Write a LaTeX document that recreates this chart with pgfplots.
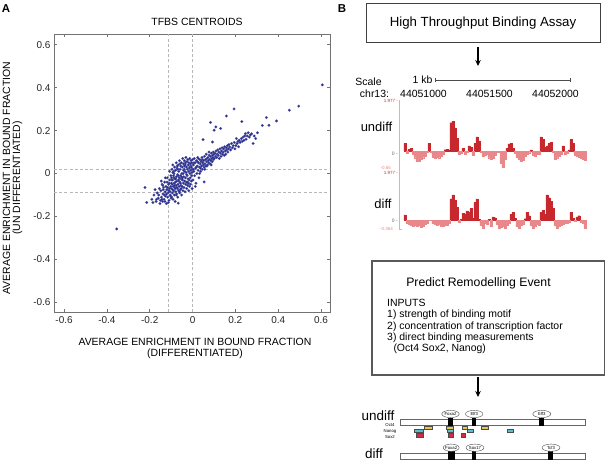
\documentclass[border=0pt]{standalone}
\usepackage{fontspec}
\setmainfont{Liberation Sans}
\usepackage{pgfplots}
\usepackage{pgfplotstable}
\pgfplotsset{compat=1.18}
\usetikzlibrary{arrows.meta}
\definecolor{scat}{RGB}{40,44,140}
\definecolor{tdark}{RGB}{198,40,45}
\definecolor{tlight}{RGB}{232,136,138}
\definecolor{tpink}{RGB}{236,170,170}
\definecolor{ylw}{RGB}{232,200,70}
\definecolor{cyn}{RGB}{90,190,210}
\definecolor{rdb}{RGB}{205,45,70}
\newcommand{\fs}[1]{\fontsize{#1}{#1}\selectfont}

\pgfplotstableread{
x y
-0.19 -0.12
-0.18 -0.10
-0.17 -0.13
-0.165 -0.09
-0.16 -0.115
-0.155 -0.07
-0.152 -0.14
-0.175 -0.075
-0.158 -0.10
-0.168 -0.12
-0.185 -0.135
-0.15 -0.125
-0.148 -0.08
-0.145 -0.11
-0.142 -0.05
-0.14 -0.13
-0.138 -0.095
-0.135 -0.065
-0.133 -0.12
-0.13 -0.04
-0.128 -0.085
-0.126 -0.105
-0.124 -0.06
-0.122 -0.14
-0.12 -0.075
-0.118 -0.02
-0.116 -0.11
-0.114 -0.09
-0.112 -0.05
-0.11 -0.125
-0.108 -0.07
-0.106 -0.03
-0.104 -0.10
-0.102 -0.06
-0.10 -0.115
-0.146 -0.035
-0.137 -0.075
-0.131 -0.10
-0.127 -0.02
-0.121 -0.095
-0.117 -0.065
-0.113 -0.135
-0.109 -0.045
-0.105 -0.085
-0.101 -0.01
-0.143 -0.12
-0.139 -0.055
-0.129 -0.13
-0.119 -0.04
-0.111 -0.08
-0.107 0.01
-0.103 -0.105
-0.099 -0.07
-0.098 -0.02
-0.097 -0.11
-0.096 0.02
-0.095 -0.05
-0.094 -0.09
-0.093 -0.03
-0.092 0.04
-0.091 -0.12
-0.09 -0.06
-0.089 -0.01
-0.088 -0.08
-0.087 0.0
-0.086 -0.045
-0.085 -0.10
-0.084 0.03
-0.083 -0.065
-0.082 -0.025
-0.081 -0.13
-0.08 -0.04
-0.079 0.015
-0.078 -0.085
-0.077 -0.055
-0.076 0.05
-0.075 -0.015
-0.074 -0.095
-0.073 -0.035
-0.072 0.025
-0.071 -0.07
-0.07 -0.005
-0.069 -0.11
-0.068 -0.05
-0.067 0.04
-0.066 -0.03
-0.065 -0.08
-0.064 0.01
-0.063 -0.06
-0.062 -0.02
-0.061 0.06
-0.06 -0.09
-0.059 -0.04
-0.058 0.02
-0.057 -0.075
-0.056 -0.01
-0.055 0.035
-0.054 -0.055
-0.053 -0.025
-0.052 0.05
-0.051 -0.10
-0.05 0.0
-0.0985 -0.045
-0.0935 -0.075
-0.0885 0.01
-0.0835 -0.055
-0.0785 -0.025
-0.0735 -0.065
-0.0685 0.02
-0.0635 -0.035
-0.0585 0.045
-0.0535 -0.07
-0.0965 -0.03
-0.0865 -0.02
-0.0765 -0.10
-0.0665 -0.01
-0.0565 -0.045
-0.0915 0.005
-0.0815 -0.07
-0.0715 0.035
-0.0615 -0.085
-0.0515 -0.015
-0.049 -0.06
-0.048 0.03
-0.047 -0.03
-0.046 0.07
-0.045 -0.08
-0.044 0.0
-0.043 -0.045
-0.042 0.045
-0.041 -0.015
-0.04 -0.065
-0.039 0.02
-0.038 0.06
-0.037 -0.035
-0.036 0.01
-0.035 -0.085
-0.034 0.04
-0.033 -0.02
-0.032 -0.05
-0.031 0.075
-0.03 0.005
-0.029 -0.04
-0.028 0.03
-0.027 -0.07
-0.026 0.055
-0.025 -0.01
-0.024 0.02
-0.023 -0.055
-0.022 0.065
-0.021 -0.025
-0.02 0.04
-0.019 -0.045
-0.018 0.01
-0.017 0.05
-0.016 -0.03
-0.015 0.025
-0.014 -0.06
-0.013 0.07
-0.012 0.0
-0.011 -0.02
-0.01 0.045
-0.009 -0.05
-0.008 0.015
-0.007 0.06
-0.006 -0.035
-0.005 0.03
-0.004 -0.01
-0.003 0.05
-0.002 -0.07
-0.001 0.02
0.0 0.065
-0.0475 -0.02
-0.0375 0.035
-0.0275 -0.005
-0.0175 -0.08
-0.0075 0.035
-0.0425 0.015
-0.0325 0.05
-0.0225 -0.04
-0.0125 0.03
-0.0025 0.005
0.002 -0.03
0.004 0.04
0.006 0.01
0.008 0.07
0.01 -0.01
0.012 0.05
0.014 0.025
0.016 -0.045
0.018 0.06
0.02 0.0
0.022 0.035
0.024 0.075
0.026 0.015
0.028 0.05
0.03 -0.02
0.032 0.03
0.034 0.065
0.036 0.045
0.038 0.01
0.04 0.055
0.042 0.035
0.044 0.075
0.046 0.02
0.048 0.05
0.05 0.04
0.003 0.02
0.013 -0.06
0.023 0.055
0.033 0.0
0.043 0.06
0.007 0.05
0.017 0.03
0.027 0.07
0.037 0.025
0.047 0.065
0.054 -0.039
0.052 0.06
0.054 0.03
0.056 0.08
0.058 0.045
0.06 0.065
0.062 0.035
0.064 0.09
0.066 0.055
0.068 0.07
0.07 0.04
0.072 0.075
0.074 0.06
0.076 0.05
0.078 0.085
0.08 0.065
0.082 0.045
0.084 0.08
0.086 0.06
0.088 0.095
0.09 0.07
0.092 0.055
0.094 0.085
0.096 0.075
0.098 0.065
0.10 0.09
0.057 0.02
0.067 0.035
0.077 0.10
0.087 0.04
0.097 0.10
0.102 0.07
0.105 0.095
0.108 0.08
0.11 0.105
0.113 0.075
0.115 0.09
0.118 0.11
0.12 0.085
0.123 0.10
0.125 0.07
0.128 0.115
0.13 0.095
0.133 0.08
0.135 0.105
0.138 0.12
0.14 0.09
0.143 0.10
0.145 0.115
0.148 0.085
0.15 0.125
0.153 0.105
0.155 0.09
0.158 0.12
0.16 0.11
0.163 0.13
0.165 0.10
0.168 0.115
0.17 0.135
0.174 0.124
0.178 0.11
0.182 0.14
0.186 0.12
0.19 0.13
0.195 0.145
0.198 0.115
0.202 0.13
0.205 0.163
0.208 0.14
0.212 0.15
0.215 0.125
0.218 0.155
0.222 0.145
0.228 0.163
0.232 0.15
0.236 0.17
0.24 0.155
0.244 0.175
0.247 0.186
0.25 0.16
0.255 0.175
0.26 0.19
0.265 0.17
0.27 0.18
0.276 0.185
0.283 0.14
0.288 0.175
0.295 0.163
0.303 0.19
0.606 0.413
0.496 0.314
0.452 0.295
0.392 0.245
0.345 0.261
0.357 0.225
0.326 0.224
0.194 0.301
0.158 0.268
0.23 0.242
0.084 0.238
0.109 0.217
0.101 0.202
0.131 0.21
0.049 0.158
0.093 0.147
-0.222 -0.065
-0.354 -0.258
-0.214 -0.135
-0.067 -0.138
}\scatdata

\pgfplotstableread{
x u d
0 0.30 0.24
2 -0.08 -0.12
4 0.08 -0.15
6 0.10 -0.20
8 -0.10 -0.22
10 -0.25 -0.18
12 -0.38 -0.25
14 -0.40 -0.20
16 -0.32 -0.28
18 -0.25 -0.25
20 -0.18 -0.15
22 -0.05 -0.12
24 0.30 0
26 -0.05 0
28 -0.22 -0.12
30 -0.28 -0.15
32 -0.22 -0.20
34 -0.25 -0.15
36 -0.18 -0.22
38 -0.12 -0.25
40 0.06 -0.18
42 0.08 -0.20
44 0.05 -0.12
46 1.10 0.90
48 1.16 1.07
50 0.90 0.85
52 0.50 0.55
54 -0.12 -0.08
56 -0.08 0.05
58 0.12 0.30
60 -0.10 0.28
62 -0.05 0.40
64 0.20 0.35
66 0.15 0.50
68 -0.15 0.10
70 0.30 0.75
72 0.55 0.90
74 0.40 0.05
76 -0.05 -0.20
78 -0.20 -0.32
80 -0.15 -0.10
82 -0.12 -0.15
84 -0.25 0.05
86 -0.32 -0.25
88 -0.28 0.15
90 -0.15 0.12
92 -0.05 -0.15
94 -0.02 -0.30
96 -0.45 -0.28
98 -0.62 -0.25
100 -0.30 -0.30
102 0.12 -0.20
104 0.28 -0.10
106 0.30 0.25
108 0.12 0.35
110 -0.08 0.10
112 -0.22 -0.25
114 -0.30 -0.32
116 -0.40 -0.20
118 -0.35 -0.15
120 -0.20 0.08
122 -0.10 0.35
124 -0.06 0.20
126 0.05 -0.20
128 -0.15 -0.30
130 -0.20 -0.25
132 -0.12 -0.15
134 -0.10 -0.18
136 0.55 0.35
138 0.45 0.42
140 0.15 0.25
142 0.20 1.07
144 0.30 0.95
146 0.35 0.80
148 -0.05 0.50
150 -0.30 -0.20
152 -0.25 -0.30
154 -0.18 -0.25
156 -0.10 -0.20
158 0.20 -0.15
160 -0.12 -0.12
162 -0.08 -0.10
164 0.05 -0.05
166 0.45 0.35
168 0.30 0.10
170 -0.15 -0.03
172 -0.20 0.15
174 -0.22 0.20
176 -0.28 -0.05
178 -0.32 -0.10
180 -0.35 -0.30
}\trackdata

\begin{document}
\begin{tikzpicture}
\useasboundingbox (0,0) rectangle (607bp,-460bp);

% ---------- Panel A scatter ----------
\begin{axis}[
  at={(54bp,-312bp)}, anchor=south west,
  scale only axis, width=276bp, height=278bp,
  xmin=-0.647, xmax=0.642, ymin=-0.645, ymax=0.65,
  xtick={-0.6,-0.4,-0.2,0,0.2,0.4,0.6},
  ytick={-0.6,-0.4,-0.2,0,0.2,0.4,0.6},
  xticklabels={-0.6,-0.4,-0.2,0,0.2,0.4,0.6},
  yticklabels={-0.6,-0.4,-0.2,0,0.2,0.4,0.6},
  tick align=inside, xtick pos=both, ytick pos=both,
  major tick length=3bp,
  axis line style={black!55, line width=0.9bp},
  tick style={black!55, line width=0.6bp},
  ticklabel style={font=\fs{10}, text=black!85},
  xticklabel style={yshift=-1bp},
  /pgf/number format/assume math mode=true,
  clip=true,
]
\addplot[black!28, line width=0.8bp, dash pattern=on 3bp off 2.2bp] coordinates {(-0.114,-0.645) (-0.114,0.65)};
\addplot[black!28, line width=0.8bp, dash pattern=on 3bp off 2.2bp] coordinates {(0,-0.645) (0,0.65)};
\addplot[black!28, line width=0.8bp, dash pattern=on 3bp off 2.2bp] coordinates {(-0.647,0.021) (0.642,0.021)};
\addplot[black!28, line width=0.8bp, dash pattern=on 3bp off 2.2bp] coordinates {(-0.647,-0.089) (0.642,-0.089)};
\addplot[only marks, mark=*, mark size=1.35bp, color=scat, mark options={fill=scat, draw=scat!80!white, line width=0.2bp}] table[x=x, y=y] {\scatdata};
\end{axis}

% ---------- Tracks ----------
\begin{axis}[
  at={(399bp,-168bp)}, anchor=south west,
  scale only axis, width=188bp, height=68bp,
  xmin=-6, xmax=182, ymin=-0.65, ymax=1.977,
  hide axis, clip=false, ybar, bar width=2.4, bar shift=0pt]
\addplot[fill=tdark, draw=tdark, line width=0.2bp, restrict y to domain=0:3] table[x=x, y=u] {\trackdata};
\addplot[fill=tlight, draw=tlight, line width=0.2bp, restrict y to domain=-3:0] table[x=x, y=u] {\trackdata};
\end{axis}
\begin{axis}[
  at={(399bp,-229.3bp)}, anchor=south west,
  scale only axis, width=188bp, height=56.3bp,
  xmin=-6, xmax=182, ymin=-0.364, ymax=1.977,
  hide axis, clip=false, ybar, bar width=2.4, bar shift=0pt]
\addplot[fill=tdark, draw=tdark, line width=0.2bp, restrict y to domain=0:3] table[x=x, y=d] {\trackdata};
\addplot[fill=tlight, draw=tlight, line width=0.2bp, restrict y to domain=-3:0] table[x=x, y=d] {\trackdata};
\end{axis}

\begin{scope}[x=1bp, y=-1bp]
% panel labels
\node[font=\fs{11.5}\bfseries] at (6,8.5) {A};
\node[font=\fs{11.5}\bfseries] at (342,8.5) {B};
% scatter texts
\node[font=\fs{10.5}] at (197,22) {TFBS CENTROIDS};
\node[font=\fs{10.5}] at (195,341.5) {AVERAGE ENRICHMENT IN BOUND FRACTION};
\node[font=\fs{10.5}] at (195,354) {(DIFFERENTIATED)};
\node[font=\fs{10.5}, rotate=90] at (6.5,178) {AVERAGE ENRICHMENT IN BOUND FRACTION};
\node[font=\fs{10.5}, rotate=90] at (17.5,178) {(UN DIFFERENTIATED)};

% box 1
\draw[black!75, line width=1bp] (366,3.5) rectangle (600,42.5);
\node[font=\fs{13.3}] at (483,23) {High Throughput Binding Assay};
\draw[-{Stealth[length=6bp,width=5.5bp]}, line width=1.1bp] (478,47) -- (478,66);

% scale
\node[font=\fs{10.5}] at (422.5,80) {1 kb};
\draw[black!70, line width=0.6bp] (435,80) -- (570,80);
\draw[black!70, line width=0.6bp] (435,78) -- (435,82);
\draw[black!70, line width=0.6bp] (570,78) -- (570,82);
\node[font=\fs{10.5}] at (368.5,81.5) {Scale};
\node[font=\fs{10.5}, inner sep=0.5pt] at (374.5,93.5) {chr13:};
\node[font=\fs{10.5}] at (423.5,94) {44051000};
\node[font=\fs{10.5}] at (489.5,94) {44051500};
\node[font=\fs{10.5}] at (555.5,94) {44052000};

% track axis decorations
\draw[tpink, line width=0.6bp] (399,99.5) -- (399,229.5);
\draw[tpink, line width=0.6bp] (399,229.5) -- (402,229.5);
\node[font=\fs{4.5}, text=tdark, anchor=east, inner sep=0pt] at (398,101) {1.977 -};
\node[font=\fs{5}, text=black!60, anchor=east, inner sep=0pt] at (398,153.3) {0 -};
\node[font=\fs{4.5}, text=tlight, anchor=east, inner sep=0pt] at (391,167.5) {-0.65};
\node[font=\fs{4.5}, text=tdark, anchor=east, inner sep=0pt] at (398,172.5) {1.977 -};
\node[font=\fs{5}, text=black!60, anchor=east, inner sep=0pt] at (398,220.7) {0 -};
\node[font=\fs{4.5}, text=tlight, anchor=east, inner sep=0pt] at (393,229.3) {-0.364};
\node[font=\fs{13}] at (376.5,127) {undiff};
\node[font=\fs{13}] at (383,204) {diff};

% box 2
\draw[black!65, line width=1.2bp] (372,261) rectangle (604.5,375);
\node[font=\fs{12.3}] at (478.5,283) {Predict Remodelling Event};
\node[font=\fs{10.5}, anchor=west, inner sep=0pt] at (387,303) {INPUTS};
\node[font=\fs{10.5}, anchor=west, inner sep=0pt] at (387,315) {1) strength of binding motif};
\node[font=\fs{10.5}, anchor=west, inner sep=0pt] at (387,326.3) {2) concentration of transcription factor};
\node[font=\fs{10.5}, anchor=west, inner sep=0pt] at (387,337.3) {3) direct binding measurements};
\node[font=\fs{10.5}, anchor=west, inner sep=0pt] at (393.3,348.3) {(Oct4 Sox2, Nanog)};
\draw[-{Stealth[length=6bp,width=5.5bp]}, line width=1.1bp] (478,377) -- (478,397);

% schematic undiff
\node[font=\fs{13.5}] at (378,415.5) {undiff};
\draw[black!60, fill=white, line width=0.5bp] (400,419) rectangle (585,425.5);
\fill[black] (447.7,417.5) rectangle (452.7,426);
\fill[black] (472.3,417.5) rectangle (476,426);
\fill[black] (539.3,417.5) rectangle (544.3,426);
\draw[black!70, fill=white, line width=0.4bp] (450.5,414) ellipse (8.7 and 3.6);
\draw[black!70, fill=white, line width=0.4bp] (474.2,414) ellipse (8.8 and 3.6);
\draw[black!70, fill=white, line width=0.4bp] (541.8,414) ellipse (9 and 3.6);
\node[font=\fs{4.3}, inner sep=0pt] at (450.5,414) {Foxa2};
\node[font=\fs{4.3}, inner sep=0pt] at (474.2,414) {Elf3};
\node[font=\fs{4.3}, inner sep=0pt] at (541.8,414) {Elf3};
\node[font=\fs{4.3}, inner sep=0pt] at (390,425) {Oct4};
\node[font=\fs{4.3}, inner sep=0pt] at (390,431) {Nanog};
\node[font=\fs{4.3}, inner sep=0pt] at (390,436.7) {Sox2};
\begin{scope}[draw=black!70, line width=0.3bp]
\filldraw[fill=ylw] (424,425.8) rectangle (432.3,429.3);
\filldraw[fill=ylw] (446,425.8) rectangle (453.3,429.3);
\filldraw[fill=ylw] (462,425.8) rectangle (467.3,429.3);
\filldraw[fill=ylw] (481,425.8) rectangle (488.3,429.3);
\filldraw[fill=cyn] (414.3,429.3) rectangle (422.7,432.3);
\filldraw[fill=cyn] (446.7,429.3) rectangle (452.7,432.3);
\filldraw[fill=cyn] (467.3,429.3) rectangle (473.3,432.3);
\filldraw[fill=cyn] (507.3,429.3) rectangle (512.7,432.3);
\filldraw[fill=rdb] (416,433.3) rectangle (422.7,436.7);
\filldraw[fill=rdb] (448.3,433.3) rectangle (452.7,436.7);
\filldraw[fill=rdb] (461,433.3) rectangle (465.3,436.7);
\end{scope}

% schematic diff
\node[font=\fs{13.5}] at (374,453.5) {diff};
\draw[black!60, fill=white, line width=0.5bp] (400,453.3) rectangle (585,459);
\fill[black] (447.7,451) rectangle (455,460);
\fill[black] (471.7,451) rectangle (476,460);
\fill[black] (548.3,451) rectangle (553.3,460);
\draw[black!70, fill=white, line width=0.4bp] (451.2,447.7) ellipse (8 and 3.6);
\draw[black!70, fill=white, line width=0.4bp] (475,447.7) ellipse (9 and 3.6);
\draw[black!70, fill=white, line width=0.4bp] (551,447.7) ellipse (9 and 3.6);
\node[font=\fs{4.3}, inner sep=0pt] at (451.2,447.7) {Foxa2};
\node[font=\fs{4.3}, inner sep=0pt] at (475,447.7) {Sox17};
\node[font=\fs{4.3}, inner sep=0pt] at (551,447.7) {Tcf3};
\end{scope}
\end{tikzpicture}
\end{document}
